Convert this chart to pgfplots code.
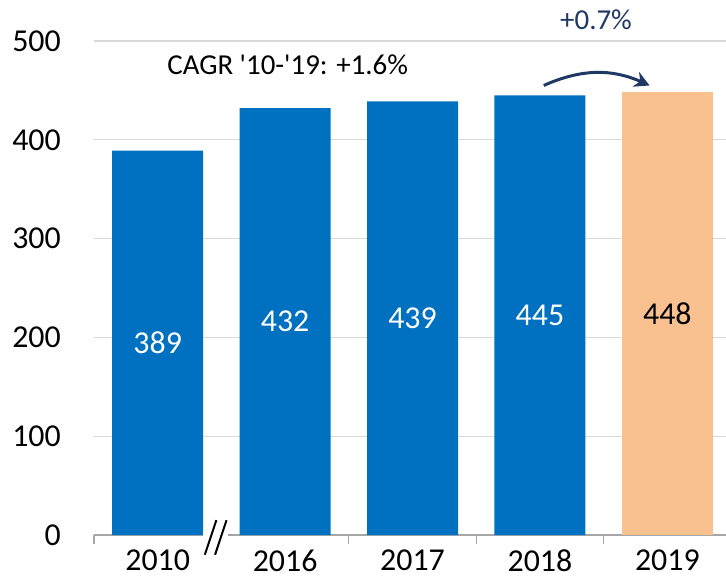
\documentclass[border=0pt]{standalone}
\usepackage{pgfplots}
\pgfplotsset{compat=1.18}
\usepackage{fontspec}
\setmainfont{Carlito}
\usetikzlibrary{arrows.meta}
\definecolor{barblue}{HTML}{0070C0}
\definecolor{barpeach}{HTML}{F9C18F}
\definecolor{navy}{HTML}{1F3864}
\definecolor{gridgray}{HTML}{D9D9D9}
\definecolor{axisgray}{HTML}{A6A6A6}
\begin{document}
\begin{tikzpicture}
\begin{axis}[
 scale only axis, width=632bp, height=494bp,
 xmin=-0.5, xmax=4.46, ymin=0, ymax=500,
 axis lines*=left,
 y axis line style={draw=none},
 x axis line style={draw=axisgray, line width=1.2bp},
 ytick={0,100,...,500},
 xtick={0,...,4},
 xticklabels={2010,2016,2017,2018,2019},
 minor xtick={-0.5,1.5,2.5,3.5},
 tick align=outside,
 major tick length=0pt,
 minor tick length=9bp,
 every minor tick/.append style={draw=axisgray, line width=1.2bp},
 ymajorgrids, grid style={draw=gridgray, line width=1.2bp},
 /pgf/number format/assume math mode=true,
 ticklabel style={font=\fontsize{32}{38}\selectfont, inner sep=0pt},
 yticklabel style={anchor=east, xshift=-33bp},
 xticklabel style={anchor=north, yshift=-15bp},
 ybar, bar width=91bp, bar shift=0pt,
 clip=false,
 nodes near coords,
 visualization depends on=y \as \rawy,
 every node near coord/.append style={anchor=center, font=\fontsize{32}{38}\selectfont, shift={(axis direction cs:0,-\rawy/2)}},
]
\addplot[fill=barblue, draw=none, every node near coord/.append style={text=white}] coordinates {(0,389)(1,432)(2,439)(3,445)};
\addplot[fill=barpeach, draw=none, every node near coord/.append style={text=black}] coordinates {(4,448)};
% axis break
\fill[white] (axis cs:0.357,-4) rectangle (axis cs:0.555,4);
\draw[black, line width=2bp] (axis cs:0.37,-20) -- (axis cs:0.46,15);
\draw[black, line width=2bp] (axis cs:0.45,-20) -- (axis cs:0.54,15);
% annotations
\node[font=\fontsize{29}{34}\selectfont] at (axis cs:1.02,476) {CAGR \textquotesingle10-\textquotesingle19: +1.6\%};
\node[text=navy, font=\fontsize{29}{34}\selectfont] at (axis cs:3.44,521) {+0.7\%};
\draw[navy, line width=3bp, -{Stealth[length=15bp,width=16bp]}] (axis cs:3.03,455) to[bend left=24] (axis cs:3.86,455);
\end{axis}
\pgfresetboundingbox
\path ([shift={(-94bp,-46bp)}]current axis.south west) rectangle ([shift={(0bp,41bp)}]current axis.north east);
\end{tikzpicture}
\end{document}
